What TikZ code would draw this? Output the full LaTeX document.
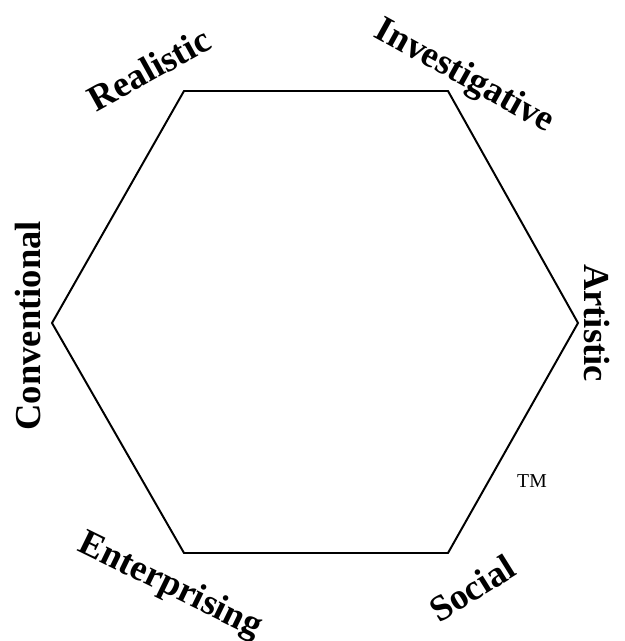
\documentclass[tikz,border=0pt]{standalone}
\usepackage{fontspec}
\setmainfont{Liberation Serif}
\usetikzlibrary{positioning}

\begin{document}
\begin{tikzpicture}[
  side/.style={draw, line width=1.4pt, line join=miter},
  type/.style={font=\bfseries\fontsize{26}{30}\selectfont, inner sep=0pt},
  tmark/.style={font=\fontsize{14}{16}\selectfont, inner sep=0pt}
]
\useasboundingbox (0,0) rectangle (15.625,16.025);
% corners of the hexagon
\coordinate (tl) at (4.6,13.75);
\coordinate (tr) at (11.2,13.75);
\coordinate (r) at (14.45,7.95);
\coordinate (br) at (11.2,2.2);
\coordinate (bl) at (4.6,2.2);
\coordinate (l) at (1.3,7.95);
\draw[side] (tl) -- (tr) -- (r) -- (br) -- (bl) -- (l) -- cycle;

\node[type, rotate=29] (real) at (3.72,14.3) {Realistic};
\node[type, rotate=-29] (inv) at (11.6,14.1) {Investigative};
\node[type, rotate=-90] (art) at (14.92,7.95) {Artistic};
\node[type, rotate=32] (soc) at (11.8,1.32) {Social};
\node[type, rotate=-26] (ent) at (4.25,1.36) {Enterprising};
\node[type, rotate=90] (conv) at (0.7,7.88) {Conventional};
\node[tmark] (tm) at (13.3,4.0) {TM};
\end{tikzpicture}
\end{document}
